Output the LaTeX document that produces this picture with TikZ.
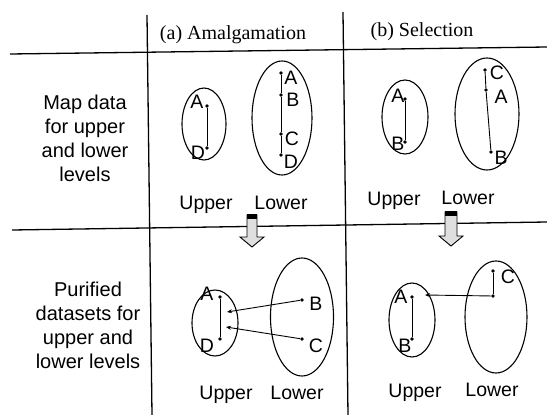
\documentclass[tikz,border=0pt]{standalone}
\usepackage{fontspec}
\setmainfont{Liberation Sans}
\newfontfamily\headfont{Liberation Serif}
\usetikzlibrary{shapes.geometric,arrows.meta}
\begin{document}
\begin{tikzpicture}[x=1pt,y=-1pt,
  grid/.style={line width=1.3pt},
  ell/.style={draw,ellipse,line width=1.1pt,inner sep=0pt},
  pt/.style={circle,fill,inner sep=0pt,minimum size=3.8pt},
  lbl/.style={font=\fontsize{19.5}{20}\selectfont,inner sep=0pt},
  rowtxt/.style={font=\fontsize{20}{24}\selectfont,align=center,inner sep=0pt},
  head/.style={font=\headfont\fontsize{20}{22}\selectfont,inner sep=0pt},
  lev/.style={font=\fontsize{19.5}{20}\selectfont,inner sep=0pt},
  seg/.style={line width=0.9pt},
  arr/.style={line width=0.9pt,-{Stealth[length=5pt,width=4pt]}},
  blockarrow/.style={draw,line width=0.9pt,fill=gray!25}
]
\useasboundingbox (0,0) rectangle (547,415);

% grid
\coordinate (v1t) at (147,15);  \coordinate (v1b) at (152,415);
\coordinate (v2t) at (343,12);  \coordinate (v2b) at (348,415);
\coordinate (h1l) at (10,54);   \coordinate (h1r) at (547,47);
\coordinate (h2l) at (12,230);  \coordinate (h2r) at (547,222);
\draw[grid] (v1t) -- (v1b);
\draw[grid] (v2t) -- (v2b);
\draw[grid] (h1l) -- (h1r);
\draw[grid] (h2l) -- (h2r);

% headers
\node[head] (ha) at (233,35) {(a) Amalgamation};
\node[head] (hb) at (422,32) {(b) Selection};

% row texts
\node[rowtxt] (r1) at (85,138) {Map data\\for upper\\and lower\\levels};
\node[rowtxt] (r2) at (88,325) {Purified\\datasets for\\upper and\\lower levels};

% ---------- top (a)
\node[ell,minimum width=44pt,minimum height=72pt] (ua) at (204,124) {};
\node[pt] (uaA) at (207,106) {};
\node[pt] (uaD) at (207,148) {};
\draw[seg] (uaA) -- (uaD);
\node[lbl] (luaA) at (197,102) {A};
\node[lbl] (luaD) at (198,153) {D};

\node[ell,minimum width=60pt,minimum height=114pt] (la) at (282,118) {};
\node[pt] (laA) at (281,73) {};
\node[pt] (laB) at (281,95) {};
\node[pt] (laC) at (281,134) {};
\node[pt] (laD) at (281,155) {};
\draw[seg] (laA) -- (laB) -- (laC) -- (laD);
\node[lbl] (llaA) at (291,78) {A};
\node[lbl] (llaB) at (293,100) {B};
\node[lbl] (llaC) at (292,139) {C};
\node[lbl] (llaD) at (291,162) {D};

\node[lev] (upA) at (206,205) {Upper};
\node[lev] (loA) at (281,203) {Lower};

% ---------- top (b)
\node[ell,minimum width=46pt,minimum height=74pt] (ub) at (405,117) {};
\node[pt] (ubA) at (405,99) {};
\node[pt] (ubB) at (405,142) {};
\draw[seg] (ubA) -- (ubB);
\node[lbl] (lubA) at (398,96) {A};
\node[lbl] (lubB) at (398,144) {B};

\node[ell,minimum width=64pt,minimum height=112pt] (lb) at (487,114) {};
\node[pt] (lbC) at (485,70) {};
\node[pt] (lbA) at (486,90) {};
\node[pt] (lbB) at (491,152) {};
\draw[seg] (lbC) -- (lbA) -- (lbB);
\node[lbl] (llbC) at (497,73) {C};
\node[lbl] (llbA) at (501,97) {A};
\node[lbl] (llbB) at (501,158) {B};

\node[lev] (upB) at (394,201) {Upper};
\node[lev] (loB) at (468,198) {Lower};

% ---------- block arrows
\draw[blockarrow] (247,215) -- (257,215) -- (257,237) -- (264,237) -- (252,247)
   -- (240,237) -- (247,237) -- cycle;
\fill (247,214) rectangle (257,219);
\draw[blockarrow] (445,212) -- (457,212) -- (457,236) -- (463,236) -- (451,246)
   -- (439,236) -- (445,236) -- cycle;
\fill (445,211) rectangle (457,216);

% ---------- bottom (a)
\node[ell,minimum width=46pt,minimum height=66pt] (ua2) at (215,323) {};
\node[pt] (ua2A) at (220,297) {};
\node[pt] (ua2D) at (220,339) {};
\draw[seg] (ua2A) -- (ua2D);
\node[lbl] (lua2A) at (207,294) {A};
\node[lbl] (lua2D) at (207,346) {D};

\node[ell,minimum width=63pt,minimum height=118pt] (la2) at (302,317) {};
\node[pt] (la2B) at (302,300) {};
\node[pt] (la2C) at (302,339) {};
\node[lbl] (lla2B) at (316,304) {B};
\node[lbl] (lla2C) at (316,346) {C};
\coordinate (ta1) at (227,312);
\coordinate (ta2) at (226,327);
\draw[arr] (la2B) -- (ta1);
\draw[arr] (la2C) -- (ta2);

\node[lev] (upA2) at (226,395) {Upper};
\node[lev] (loA2) at (297,393) {Lower};

% ---------- bottom (b)
\node[ell,minimum width=46pt,minimum height=74pt] (ub2) at (412,320) {};
\node[pt] (ub2A) at (412,297) {};
\node[pt] (ub2B) at (412,339) {};
\draw[seg] (ub2A) -- (ub2B);
\node[lbl] (lub2A) at (401,297) {A};
\node[lbl] (lub2B) at (405,346) {B};

\node[ell,minimum width=62pt,minimum height=112pt] (lb2) at (496,317) {};
\node[pt] (lb2C) at (493,271) {};
\node[pt] (lb2J) at (493,296) {};
\draw[seg] (lb2C) -- (lb2J);
\node[lbl] (llb2C) at (508,277) {C};
\coordinate (tb1) at (425,295);
\draw[arr] (lb2J) -- (tb1);

\node[lev] (upB2) at (415,393) {Upper};
\node[lev] (loB2) at (492,390) {Lower};
\end{tikzpicture}
\end{document}
